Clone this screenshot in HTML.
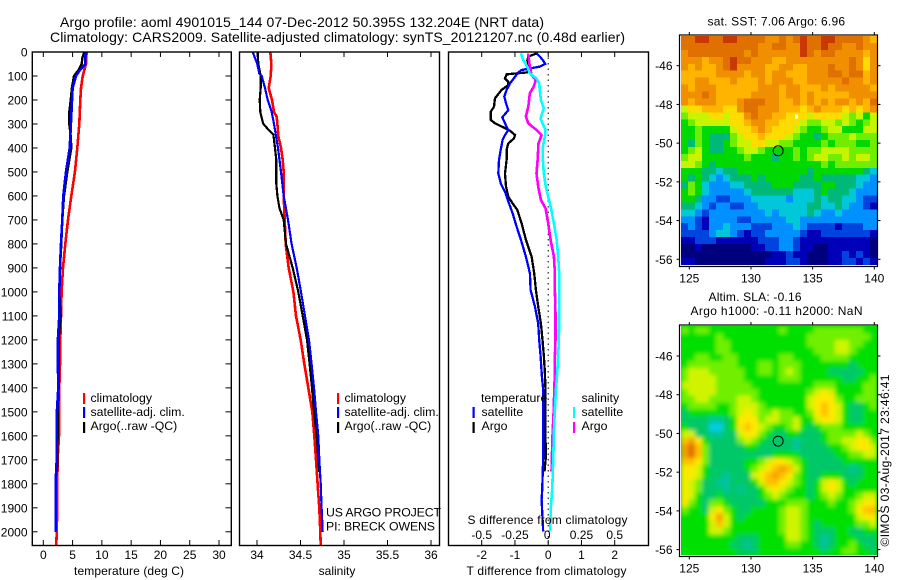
<!DOCTYPE html>
<html lang="en">
<head>
<meta charset="utf-8">
<title>Argo profile 4901015_144</title>
<style>
html,body{margin:0;padding:0;background:#fff;width:900px;height:580px;overflow:hidden}
svg{display:block}
text{font-family:"Liberation Sans",sans-serif;font-size:12px;fill:#000}
.lg{font-size:12.3px}
.ttl{font-size:14px}
</style>
</head>
<body>
<svg id="chart" xmlns="http://www.w3.org/2000/svg" width="900" height="580" viewBox="0 0 900 580">
<defs>
<clipPath id="clipT"><rect x="32" y="52" width="199.5" height="493.5"/></clipPath>
<clipPath id="clipS"><rect x="239.5" y="52" width="200" height="493.5"/></clipPath>
<clipPath id="clipD"><rect x="448.5" y="52" width="200" height="493.5"/></clipPath>
<clipPath id="clipM2"><rect x="681" y="326" width="196" height="229"/></clipPath>
<filter id="soft" x="-5%" y="-5%" width="110%" height="110%"><feGaussianBlur stdDeviation="2"/></filter>
</defs>
<rect x="0" y="0" width="900" height="580" fill="#fff"/>
<text class="ttl" x="60" y="27" textLength="484">Argo profile: aoml 4901015_144 07-Dec-2012 50.395S 132.204E (NRT data)</text>
<text class="ttl" x="50" y="42" textLength="575">Climatology: CARS2009. Satellite-adjusted climatology: synTS_20121207.nc (0.48d earlier)</text>
<g id="gT"></g>
<g id="gS"></g>
<g id="gD"></g>
<g id="gM1"></g>
<g id="gM2"></g>

<rect x="83" y="393" width="2.2" height="11" fill="#ff0000"/>
<text class="lg" x="90.5" y="402">climatology</text>
<rect x="83" y="407" width="2.2" height="11" fill="#0000ff"/>
<text class="lg" x="90.5" y="416">satellite-adj. clim.</text>
<rect x="83" y="422" width="2.2" height="11" fill="#000"/>
<text class="lg" x="90.5" y="430">Argo(..raw -QC)</text>

<rect x="337" y="393" width="2.2" height="11" fill="#ff0000"/>
<text class="lg" x="344.5" y="402">climatology</text>
<rect x="337" y="407" width="2.2" height="11" fill="#0000ff"/>
<text class="lg" x="344.5" y="416">satellite-adj. clim.</text>
<rect x="337" y="422" width="2.2" height="11" fill="#000"/>
<text class="lg" x="344.5" y="430">Argo(..raw -QC)</text>
<text class="lg" x="326" y="516.5" textLength="115">US ARGO PROJECT</text>
<text class="lg" x="326" y="530.5" textLength="109">PI: BRECK OWENS</text>

<text class="lg" x="481" y="402">temperature</text>
<rect x="472.5" y="407" width="2.2" height="11" fill="#0000ff"/>
<text class="lg" x="481.5" y="416">satellite</text>
<rect x="472.5" y="422" width="2.2" height="11" fill="#000"/>
<text class="lg" x="481.5" y="430">Argo</text>
<text class="lg" x="581.5" y="402">salinity</text>
<rect x="573" y="407" width="2.2" height="11" fill="#00ffff"/>
<text class="lg" x="581.5" y="416">satellite</text>
<rect x="573" y="422" width="2.2" height="11" fill="#ff00ff"/>
<text class="lg" x="581.5" y="430">Argo</text>

<text x="129" y="575" text-anchor="middle" textLength="110">temperature (deg C)</text>
<text x="337" y="575" text-anchor="middle">salinity</text>
<text x="546.5" y="575" text-anchor="middle" textLength="160">T difference from climatology</text>
<text x="547.5" y="524" text-anchor="middle" textLength="160">S difference from climatology</text>

<text x="707.5" y="25.5" textLength="137.5">sat. SST: 7.06 Argo: 6.96</text>
<text x="708.5" y="301" textLength="93">Altim. SLA: -0.16</text>
<text x="690.5" y="315" textLength="172">Argo h1000: -0.11 h2000: NaN</text>
<text transform="translate(889,546.5) rotate(-90)" x="0" y="0" textLength="172">©IMOS 03-Aug-2017 23:46:41</text>
</svg>
<script>
const depthTicks = [0,100,200,300,400,500,600,700,800,900,1000,1100,1200,1300,1400,1500,1600,1700,1800,1900,2000];
const tempTicks = [0,5,10,15,20,25,30];
const salTicks = [34,34.5,35,35.5,36];
const salTickLabels = ["34","34.5","35","35.5","36"];
const tDiffTicks = [-2,-1,0,1,2];
const sDiffTicks = [-0.5,-0.25,0,0.25,0.5];
const sDiffTickLabels = ["-0.5","-0.25","0","0.25","0.5"];
const lonTicks = [125,130,135,140];
const latTicks = [-46,-48,-50,-52,-54,-56];

const tempClimDepth = [0,50,100,150,200,300,400,500,600,700,800,900,1000,1100,1200,1300,1400,1500,1600,1700,1800,1900,2000,2057];
const tempClim = [7.4,7.29,6.72,6.43,6.32,6.15,5.8,5.4,4.78,4.21,3.76,3.36,3.13,3.02,2.9,2.85,2.73,2.68,2.68,2.45,2.39,2.39,2.28,2.22];
const tempSatDepth = [0,50,75,100,150,200,300,400,500,600,700,800,900,1000,1100,1200,1300,1400,1500,1600,1700,1800,1900,2000];
const tempSat = [7.23,7.17,6.26,5.58,5.0,4.9,4.72,4.5,3.87,3.41,3.24,3.02,2.85,2.73,2.73,2.5,2.5,2.56,2.33,2.33,2.28,2.1,2.1,2.1];
const tempArgoDepth = [0,25,50,75,100,150,200,250,300,350,400,500,600,700,800,900,1000,1100,1200,1300,1400,1500,1600,1700,1750];
const tempArgo = [7,6.66,6.55,6.03,5.24,4.89,4.67,4.44,4.44,4.67,4.78,4.1,3.53,3.24,3.07,2.85,2.73,2.96,2.62,2.62,2.62,2.45,2.45,2.39,2.33];

const salClimDepth = [0,50,100,150,200,250,270,300,350,400,450,500,600,700,800,900,1000,1100,1200,1300,1400,1500,1600,1700,1800,1900,2000,2057];
const salClim = [34.153,34.165,34.157,34.134,34.172,34.195,34.226,34.234,34.245,34.276,34.295,34.307,34.307,34.318,34.33,34.364,34.418,34.448,34.502,34.544,34.59,34.636,34.659,34.678,34.697,34.716,34.728,34.732];
const salSatDepth = [0,25,50,90,100,150,200,250,300,350,400,500,600,700,800,900,1000,1100,1200,1300,1400,1500,1600,1700,1800,1900,2000];
const salSat = [33.95,33.977,34.004,34.027,34.054,34.092,34.123,34.169,34.195,34.218,34.241,34.276,34.307,34.356,34.398,34.456,34.506,34.552,34.598,34.628,34.655,34.678,34.705,34.716,34.732,34.743,34.755];
const salArgoDepth = [0,50,100,150,200,250,280,300,320,345,400,450,500,550,600,650,700,800,900,1000,1100,1200,1300,1400,1500,1600,1700,1750];
const salArgo = [34.008,34.015,34.042,34.042,34.031,34.038,34.057,34.073,34.123,34.188,34.207,34.222,34.222,34.222,34.234,34.257,34.307,34.333,34.41,34.475,34.525,34.575,34.605,34.632,34.655,34.686,34.705,34.716];

const tDiffSatDepth = [6,19,36,50,61,75,85,103,131,158,186,214,242,272,297,325,346,367,408,450,506,547,589,631,672,728,783,853,922,992,1061,1131,1200,1269,1353,1408,1547,1686,1825,1867,1999];
const tDiffSat = [-.35,-.25,-.15,-.09,-.25,-.8,-.9,-1,-1.15,-1.25,-1.32,-1.27,-1.2,-1.38,-1.3,-1.2,-1.3,-1.37,-1.43,-1.48,-1.5,-1.43,-1.28,-1.18,-1.07,-.95,-.82,-.67,-.55,-.53,-.4,-.3,-.27,-.23,-.19,-.15,-.15,-.15,-.18,-.2,-.15];
const tDiffArgoDepth = [6,19,36,61,85,93,110,124,138,158,193,228,249,283,297,314,328,346,360,381,408,450,506,561,603,631,658,714,783,853,922,992,1061,1131,1200,1269,1339,1408,1478,1547,1686,1749];
const tDiffArgo = [-.35,-.6,-.63,-.57,-.63,-1.25,-1.3,-1.2,-1.2,-1.4,-1.6,-1.63,-1.73,-1.73,-1.6,-1.35,-1.15,-1,-1.03,-1.2,-1.25,-1.25,-1.3,-1.27,-1.2,-1.07,-.93,-.8,-.67,-.5,-.42,-.37,-.3,-.22,-.17,-.13,-.1,-.08,-.08,-.09,-.07,-.11];
const sDiffSatDepth = [6,33,61,89,110,131,158,200,235,276,297,325,353,394,450,506,561,603,644,714,783,853,922,992,1131,1228,1339,1408,1547,1686,1825,1894,1999];
const sDiffSat = [-.205,-.188,-.158,-.138,-.088,-.068,-.063,-.055,-.033,-.058,-.043,-.02,-.025,-.04,-.04,-.033,-.018,0,.018,.043,.063,.075,.083,.083,.083,.078,.068,.058,.045,.038,.03,.02,.015];
const sDiffArgoDepth = [6,33,61,96,117,144,172,228,269,297,325,346,381,450,506,561,617,651,714,783,853,922,992,1089,1200,1269,1339,1408,1478,1589,1644,1749];
const sDiffArgo = [-.15,-.145,-.138,-.125,-.093,-.108,-.138,-.15,-.168,-.15,-.088,-.05,-.073,-.08,-.088,-.075,-.055,-.02,0,.018,.043,.05,.05,.055,.055,.05,.05,.045,.043,.033,.03,.025];

const sstLevels = [
[12,12,13,13,12,12,13,13,12,12,12,12,11,11,12,11,12,13,12,12,13,13,12,12,12,12,11,10],
[12,12,12,12,12,12,12,12,12,12,12,11,11,12,12,11,11,13,12,12,13,12,12,11,11,12,11,11],
[11,12,12,12,12,12,12,12,12,11,12,11,11,11,11,11,11,13,12,11,12,12,11,11,11,11,10,11],
[11,11,11,10,11,11,12,13,12,12,11,11,11,10,10,11,11,11,11,11,11,11,11,11,12,11,9,11],
[11,10,11,10,10,11,12,13,11,11,11,11,10,10,11,11,10,10,11,11,11,12,11,11,12,11,9,11],
[10,10,10,10,10,11,11,11,11,10,11,11,10,11,11,10,10,10,11,11,11,12,12,11,12,12,10,11],
[10,10,11,11,10,10,10,11,10,10,10,11,10,11,11,11,10,10,11,11,11,11,11,12,11,11,10,11],
[11,10,11,11,11,10,10,10,10,10,10,11,11,11,10,11,11,10,10,10,11,10,11,11,11,11,11,10],
[11,11,11,12,11,10,10,10,10,10,11,11,11,11,10,11,11,10,11,10,10,10,10,10,11,11,11,11],
[11,10,11,11,11,10,10,10,11,12,12,12,11,11,10,10,11,10,11,10,11,10,11,11,10,11,10,12],
[8,9,9,10,10,10,9,9,11,12,12,11,11,11,10,10,10,9,10,11,10,10,10,9,10,9,10,11],
[7,8,8,8,9,9,8,9,9,11,12,11,11,10,10,9,9,9,8,9,9,9,9,8,7,8,6,8],
[6,7,8,8,8,8,8,9,9,10,11,11,10,10,9,9,9,8,7,7,8,8,7,8,7,6,7,8],
[6,6,7,6,6,6,6,8,9,9,10,11,10,9,9,9,8,7,6,6,7,8,8,6,6,6,8,8],
[6,6,7,6,5,5,5,7,8,9,9,10,9,9,9,8,7,6,6,5,6,7,7,7,8,7,7,7],
[6,5,7,6,5,5,6,7,8,8,9,9,8,8,7,7,6,6,6,6,7,6,7,7,7,6,6,7],
[6,7,8,6,5,5,6,6,7,8,8,7,6,6,6,6,7,6,7,7,8,8,8,8,7,7,7,7],
[7,8,8,6,6,6,6,6,6,7,6,6,6,5,6,6,7,6,7,8,8,7,7,8,7,8,8,7],
[8,8,7,6,5,6,6,6,6,6,6,6,6,6,6,6,6,6,6,6,7,6,7,7,7,7,7,7],
[6,6,6,5,5,4,5,5,6,6,6,6,6,6,6,6,6,6,5,6,6,6,6,6,6,6,5,4],
[6,5,6,5,4,3,4,5,5,5,6,5,6,6,6,6,6,5,5,6,5,5,5,5,5,4,4,3],
[5,7,6,4,3,3,3,4,4,5,5,5,5,6,6,6,5,5,5,5,6,6,5,5,5,4,3,3],
[6,7,6,4,3,3,3,3,3,4,5,5,5,5,5,5,4,4,4,5,6,5,5,5,4,3,3,3],
[6,6,5,3,3,2,2,3,3,3,4,4,4,4,4,3,4,4,4,5,4,5,5,4,4,3,2,2],
[5,5,4,3,2,3,3,2,2,3,3,4,4,4,4,4,4,4,5,5,4,4,5,4,3,3,2,1],
[4,4,3,2,3,3,3,3,3,3,3,3,4,3,4,4,4,4,5,4,3,3,4,3,3,3,3,3],
[3,3,2,1,3,3,3,3,2,2,3,3,3,3,3,4,4,3,3,3,3,3,3,3,3,3,3,3],
[2,3,2,1,3,3,4,3,3,3,2,2,2,3,3,3,4,3,2,2,2,2,1,2,2,2,3,3],
[2,2,2,2,3,4,4,3,2,1,2,2,3,3,3,3,3,2,1,1,2,2,2,2,2,2,2,1],
[1,1,2,2,2,1,1,1,1,1,1,2,2,2,3,3,2,1,1,1,1,1,1,1,1,1,1,0],
[0,0,1,0,0,0,0,0,0,0,1,1,2,2,3,3,2,1,1,0,0,1,1,1,1,1,1,0],
[0,0,0,0,0,0,0,0,0,0,0,0,0,1,1,2,1,1,0,0,0,1,1,2,1,2,1,0],
[1,1,0,0,0,0,0,0,0,0,0,0,1,1,1,2,2,1,0,0,0,1,1,2,2,1,2,1]
];
const slaLevels = [
[7,6,7,7,6,6,6,6,6,6,6,6,6,6,7,6,6,6,6,7,7,7,7,7,7,7,6,6],
[6,6,6,6,6,7,6,6,6,6,6,6,6,6,6,6,6,6,7,7,7,7,7,7,7,7,7,6],
[6,6,6,6,6,7,7,6,6,6,6,6,6,6,6,6,6,6,7,7,7,7,8,8,7,7,6,6],
[6,6,6,6,6,7,7,6,6,6,6,6,6,6,6,6,6,6,6,7,7,7,8,8,7,6,6,6],
[6,6,7,7,6,6,7,7,6,6,6,6,6,6,7,7,6,6,6,6,7,7,7,7,6,6,6,6],
[6,7,7,7,7,7,7,7,6,6,6,7,7,6,7,7,7,6,6,6,6,6,6,6,5,6,6,6],
[7,8,8,8,7,7,7,7,7,6,6,7,7,6,7,8,7,6,6,6,6,5,5,5,5,5,6,6],
[7,8,8,8,8,7,7,7,7,6,6,6,6,6,7,7,7,6,6,6,6,6,6,5,5,6,6,7],
[8,8,8,8,8,7,7,7,7,7,6,6,6,6,6,6,6,6,6,7,7,7,6,6,6,6,7,7],
[7,8,8,8,8,7,7,7,7,7,7,6,6,6,6,6,6,6,7,8,9,8,6,6,6,6,7,7],
[7,7,8,8,7,7,7,7,8,8,7,6,6,6,6,6,6,6,8,9,9,9,7,6,6,7,7,7],
[6,7,7,7,7,6,6,7,8,8,8,7,6,6,6,6,6,6,8,9,10,9,8,6,5,5,6,7],
[5,6,6,6,6,6,6,7,8,9,8,7,7,8,7,7,6,6,7,9,10,9,8,6,5,5,6,6],
[5,5,5,5,4,4,5,6,9,9,9,7,8,8,7,7,8,6,6,8,9,9,8,6,5,5,6,6],
[6,5,5,5,3,3,5,6,9,10,9,8,7,6,6,7,8,6,5,6,7,7,7,6,6,6,6,6],
[8,8,5,5,4,4,5,5,8,9,9,7,6,5,5,6,6,5,5,5,6,7,7,7,7,8,7,6],
[10,11,9,6,5,5,5,5,7,8,7,6,5,5,5,5,4,5,5,5,6,7,7,8,8,9,9,7],
[11,12,10,7,5,5,5,5,5,6,6,5,5,5,5,5,4,5,5,5,5,6,6,7,8,9,9,8],
[11,12,10,7,5,5,5,5,5,5,5,5,5,6,6,6,6,5,5,5,5,5,6,6,7,7,8,8],
[10,10,9,7,5,5,5,5,5,6,6,7,8,9,9,8,7,6,5,5,5,5,5,6,6,6,6,6],
[9,9,8,6,5,5,5,5,5,6,7,8,9,10,11,10,8,6,5,5,5,5,5,5,4,5,6,6],
[9,9,8,6,5,5,4,5,5,5,8,9,10,11,10,9,7,6,5,5,6,6,6,5,5,5,6,6],
[9,8,7,5,5,4,4,5,5,5,6,8,10,10,9,8,7,6,5,6,8,9,8,6,5,6,6,6],
[9,8,7,5,5,5,4,5,4,5,5,6,8,9,8,7,6,6,5,6,8,9,8,6,6,6,6,6],
[9,8,6,5,5,6,5,5,5,5,5,6,7,8,7,6,6,6,5,6,7,8,7,6,6,7,8,8],
[9,7,6,5,7,7,6,5,5,5,5,5,6,6,6,7,7,7,6,6,6,7,6,6,7,8,9,9],
[7,6,6,5,8,9,7,6,5,5,6,6,6,6,7,8,8,7,6,6,6,6,6,6,7,9,10,10],
[6,6,6,6,9,11,8,6,5,6,6,6,6,6,7,8,8,7,6,6,6,6,6,6,6,8,9,9],
[6,6,6,6,8,10,8,6,6,6,6,6,6,6,7,8,8,7,6,5,6,6,6,6,6,7,7,8],
[6,6,6,6,8,8,7,6,6,6,6,6,6,6,7,8,8,7,6,5,5,5,6,6,5,5,6,6],
[6,6,6,6,6,6,6,6,5,5,5,6,6,6,6,8,8,7,6,5,4,5,6,6,6,5,5,5],
[6,6,6,6,6,6,6,5,5,4,5,6,6,6,6,7,7,6,6,5,4,5,6,6,7,6,5,5],
[6,6,6,6,6,6,6,6,5,5,5,6,6,6,6,6,6,6,6,6,5,6,6,7,7,6,6,5]
];
const sstColors = ["#00007f","#0000b8","#0044e0","#0090ff","#00c8d8","#00b878","#00d800","#70ee00","#c8f400","#ffdc00","#ffb400","#f09000","#e07000","#c83800"];
const slaColors = ["#00007f","#0000b8","#0044e0","#00d0e8","#00c49c","#00c868","#00e000","#70f000","#d0f400","#ffe800","#ffc000","#f5a000","#e07000","#c83800"];
const argoLon = 132.204;
const argoLat = -50.395;

const NS = "http://www.w3.org/2000/svg";
function make(parent, tag, attrs, txt) {
  const el = document.createElementNS(NS, tag);
  for (const k in attrs) el.setAttribute(k, attrs[k]);
  if (txt !== undefined) el.textContent = txt;
  parent.appendChild(el);
  return el;
}
function linear(d0, d1, r0, r1) {
  return function (v) { return r0 + (v - d0) * (r1 - r0) / (d1 - d0); };
}
const yDepth = linear(0, 2000, 52, 531.8);

function drawFrame(g, left, right, name) {
  const el = make(g, "rect", {x: left, y: 52, width: right - left, height: 493.5, fill: "none", stroke: "#000", "stroke-width": 1.4});
  
  
}
function drawXTicks(g, ticks, labels, xs, labelY, name) {
  ticks.forEach(function (t, i) {
    const x = xs(t);
    const top = make(g, "line", {x1: x, x2: x, y1: 52, y2: 57, stroke: "#000", "stroke-width": 1});
    
    
    const bot = make(g, "line", {x1: x, x2: x, y1: 545, y2: 540, stroke: "#000", "stroke-width": 1});
    
    
    const lab = make(g, "text", {x: x, y: labelY, "text-anchor": "middle"}, labels[i]);
    
    
  });
}
function drawLine(g, depth, vals, xs, color, width, clip, name) {
  const pts = depth.map(function (d, i) { return xs(vals[i]).toFixed(1) + "," + yDepth(d).toFixed(1); }).join(" ");
  const el = make(g, "polyline", {points: pts, fill: "none", stroke: color, "stroke-width": width, "clip-path": "url(#" + clip + ")", "stroke-linejoin": "miter", "shape-rendering": "crispEdges"});
  
  
}

/* temperature panel */
const gT = document.getElementById("gT");
const xTemp = linear(0, 30, 43.3, 219);
drawLine(gT, tempClimDepth, tempClim, xTemp, "#ff0000", 2.6, "clipT", "temperature-climatology-line");
drawLine(gT, tempArgoDepth, tempArgo, xTemp, "#000000", 2.4, "clipT", "temperature-argo-line");
drawLine(gT, tempSatDepth, tempSat, xTemp, "#0000ff", 2.6, "clipT", "temperature-satellite-line");
drawFrame(gT, 32.3, 231.3, "temperature-panel-frame");
drawXTicks(gT, tempTicks, tempTicks.map(String), xTemp, 559, "temperature-x");
depthTicks.forEach(function (d) {
  const y = yDepth(d);
  const lt = make(gT, "line", {x1: 32, x2: 37.5, y1: y, y2: y, stroke: "#000", "stroke-width": 1});
  
  
  const rt = make(gT, "line", {x1: 231, x2: 225.5, y1: y, y2: y, stroke: "#000", "stroke-width": 1});
  
  
  const lab = make(gT, "text", {x: 27.5, y: y + 4.5, "text-anchor": "end"}, String(d));
  
  
});

/* salinity panel */
const gS = document.getElementById("gS");
const xSal = linear(34, 36, 257, 431);
drawLine(gS, salClimDepth, salClim, xSal, "#ff0000", 2.6, "clipS", "salinity-climatology-line");
drawLine(gS, salArgoDepth, salArgo, xSal, "#000000", 2.2, "clipS", "salinity-argo-line");
drawLine(gS, salSatDepth, salSat, xSal, "#0000ff", 2.2, "clipS", "salinity-satellite-line");
drawFrame(gS, 239.5, 439.5, "salinity-panel-frame");
drawXTicks(gS, salTicks, salTickLabels, xSal, 559, "salinity-x");

/* difference panel */
const gD = document.getElementById("gD");
const xTDiff = linear(-2, 2, 481.7, 614.7);
const xSDiff = linear(-0.5, 0.5, 481.7, 614.7);
const zeroLine = make(gD, "line", {x1: xTDiff(0), x2: xTDiff(0), y1: 52, y2: 545, stroke: "#000", "stroke-width": 1, "stroke-dasharray": "1.5 4"});


drawLine(gD, tDiffArgoDepth, tDiffArgo, xTDiff, "#000000", 2.3, "clipD", "t-difference-argo-line");
drawLine(gD, tDiffSatDepth, tDiffSat, xTDiff, "#0000ff", 2.3, "clipD", "t-difference-satellite-line");
drawLine(gD, sDiffArgoDepth, sDiffArgo, xSDiff, "#ff00ff", 2.6, "clipD", "s-difference-argo-line");
drawLine(gD, sDiffSatDepth, sDiffSat, xSDiff, "#00ffff", 2.6, "clipD", "s-difference-satellite-line");
drawFrame(gD, 448.5, 648.5, "difference-panel-frame");
drawXTicks(gD, tDiffTicks, ["-2","-1","0","1","2"], xTDiff, 559, "t-difference-x");
sDiffTicks.forEach(function (t, i) {
  const lab = make(gD, "text", {x: xSDiff(t) - (i === 2 ? 1 : 0), y: 539, "text-anchor": "middle"}, sDiffTickLabels[i]);
  
  
});

/* maps */
function drawMap(g, levels, palette, top, latRef, soft, mapName) {
  const xLon = linear(125, 140, 689.3, 874.3);
  const yLat = linear(-46, -56, latRef, latRef + 193.6);
  const lon0 = 124.33, dLon = 0.5668;
  const lat0 = -44.47, dLat = 0.358;
  let host = g;
  if (soft) {
    const clipG = make(g, "g", {"clip-path": "url(#clipM2)"});
    
    
    const back = make(clipG, "rect", {x: 681, y: top, width: 196, height: 229, fill: palette[6]});
    
    
    host = make(clipG, "g", {filter: "url(#soft)"});
    
    
  }
  levels.forEach(function (row, r) {
    row.forEach(function (lv, c) {
      const x0 = xLon(lon0 + c * dLon), x1 = xLon(lon0 + (c + 1) * dLon);
      const y0 = yLat(lat0 - r * dLat), y1 = yLat(lat0 - (r + 1) * dLat);
      const cell = make(host, "rect", {x: x0.toFixed(2), y: y0.toFixed(2), width: (x1 - x0 + 0.4).toFixed(2), height: (y1 - y0 + 0.4).toFixed(2), fill: palette[lv], "shape-rendering": "crispEdges"});
      
      
    });
  });
  const frame = make(g, "rect", {x: 679.5, y: top - 1, width: 198, height: 231.5, fill: "none", stroke: "#000", "stroke-width": 1.2});
  
  
  lonTicks.forEach(function (lon) {
    const x = xLon(lon);
    const t1 = make(g, "line", {x1: x, x2: x, y1: top - 1, y2: top - 4, stroke: "#000", "stroke-width": 1});
    
    
    const t2 = make(g, "line", {x1: x, x2: x, y1: top + 230.5, y2: top + 233.5, stroke: "#000", "stroke-width": 1});
    
    
    const lab = make(g, "text", {x: x, y: top + 246.5, "text-anchor": "middle"}, String(lon));
    
    
  });
  latTicks.forEach(function (lat) {
    const y = yLat(lat);
    const t1 = make(g, "line", {x1: 679.5, x2: 676.5, y1: y, y2: y, stroke: "#000", "stroke-width": 1});
    
    
    const t2 = make(g, "line", {x1: 877.5, x2: 880.5, y1: y, y2: y, stroke: "#000", "stroke-width": 1});
    
    
    const lab = make(g, "text", {x: 672.5, y: y + 4.5, "text-anchor": "end"}, String(lat));
    
    
  });
  const marker = make(g, "circle", {cx: xLon(argoLon), cy: yLat(argoLat), r: 5, fill: "none", stroke: "#000", "stroke-width": 1});
  
  
}
drawMap(document.getElementById("gM1"), sstLevels, sstColors, 36, 65.7, false, "sst-map");
const gapPixel = make(document.getElementById("gM1"), "rect", {x: 795, y: 114.5, width: 3, height: 4, fill: "#fff"});


drawMap(document.getElementById("gM2"), slaLevels, slaColors, 326, 356, true, "sla-map");
</script>
</body>
</html>
